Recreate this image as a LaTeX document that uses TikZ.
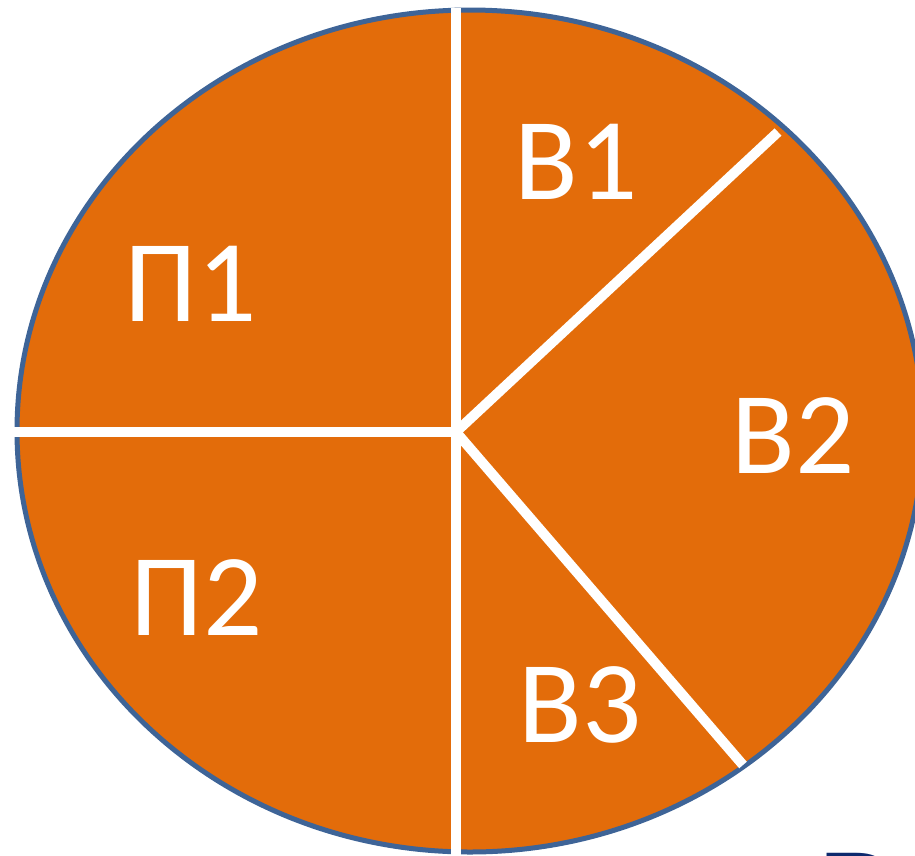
\documentclass[tikz,border=0pt]{standalone}
\usepackage{fontspec}
\setmainfont{Carlito}
\definecolor{pieorange}{HTML}{E36C0A}
\definecolor{pieedge}{HTML}{3E6497}
\definecolor{titleblue}{HTML}{0E2A6E}
\begin{document}
\begin{tikzpicture}[x=1pt, y=-1pt, every node/.style={font=\fontsize{117}{117}\selectfont, text=white, inner sep=0pt}]
                \useasboundingbox (0,0) rectangle (915,855);
                \draw[pieedge, fill=pieorange, line width=5pt] (470,431) ellipse (453pt and 421pt);
                \coordinate (centre) at (456,432);
                \foreach \name/\x/\y in {top/456/8,bottom/456/862,left/13/432,upper/778/132,lower/743/765}
                    \coordinate (\name) at (\x,\y);
                \foreach \name in {top,bottom,left,upper,lower}
                    \draw[white, line width=10pt] (centre) -- (\name);
                \node (p1) at (191,284) {П1};
                \node (p2) at (197,598) {П2};
                \node (v1) at (576,162) {В1};
                \node (v2) at (793,436) {В2};
                \node (v3) at (580,705) {В3};
                \node[anchor=north west, text=titleblue, font=\fontsize{150}{150}\selectfont] (cut) at (816,853.5) {В};
            \end{tikzpicture}
\end{document}
